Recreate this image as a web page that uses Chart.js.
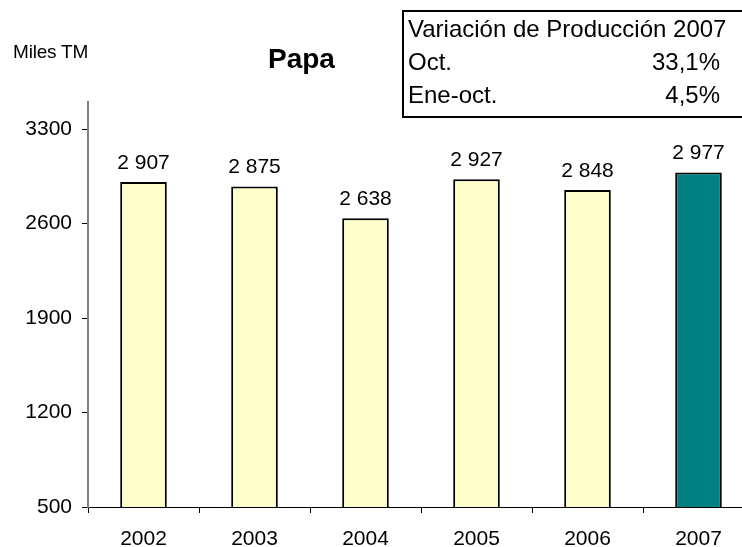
<!DOCTYPE html>
<html>
<head>
<meta charset="utf-8">
<script src="https://cdn.jsdelivr.net/npm/chart.js@4.4.0/dist/chart.umd.min.js"></script>
<style>
    html, body { margin: 0; padding: 0; background: #fff; overflow: hidden; }
    body { width: 742px; height: 547px; position: relative; font-family: 'Liberation Sans', Arial, sans-serif; }
    #wrap { position: absolute; left: 0; top: 0; width: 770px; height: 547px; }
    .unit { position: absolute; left: 13px; top: 41px; font-size: 19px; letter-spacing: -0.2px; }
    .title { position: absolute; left: 268px; top: 43px; font-size: 28px; font-weight: bold; }
    .box { position: absolute; left: 402px; top: 10px; width: 360px; height: 104px; border: 2px solid #000; font-size: 24px; }
    .row { position: relative; height: 33px; line-height: 33px; padding-left: 4px; }
    .row .val { position: absolute; left: 0; top: 0; width: 316px; text-align: right; }
</style>
</head>
<body>
<div id="wrap"><canvas id="chart" width="770" height="547"></canvas></div>
<div class="unit">Miles TM</div>
<div class="title">Papa</div>
<div class="box" id="box"></div>
<script>
document.addEventListener('DOMContentLoaded', () => {
    const years = ['2002', '2003', '2004', '2005', '2006', '2007'];
    const production = [2907, 2875, 2638, 2927, 2848, 2977];
    const yTicks = [500, 1200, 1900, 2600, 3300];
    const boxTitle = 'Variación de Producción 2007';
    const boxLabels = ['Oct.', 'Ene-oct.'];
    const boxValues = ['33,1%', '4,5%'];

    // Table in the corner
    const box = document.getElementById('box');
    const head = document.createElement('div');
    head.className = 'row';
    head.textContent = boxTitle;
    box.appendChild(head);
    boxLabels.forEach((label, i) => {
        const row = document.createElement('div');
        row.className = 'row';
        row.textContent = label;
        const val = document.createElement('span');
        val.className = 'val';
        val.textContent = boxValues[i];
        row.appendChild(val);
        box.appendChild(row);
    });

    const formatValue = v => String(v).replace(/\B(?=(\d{3})+(?!\d))/g, ' ');

    const valueLabels = {
        id: 'valueLabels',
        afterDatasetsDraw(chart) {
            const ctx = chart.ctx;
            const meta = chart.getDatasetMeta(0);
            ctx.save();
            ctx.font = '21px "Liberation Sans", Arial, sans-serif';
            ctx.fillStyle = '#000';
            ctx.textAlign = 'center';
            ctx.textBaseline = 'middle';
            meta.data.forEach((bar, i) => {
                ctx.fillText(formatValue(production[i]), bar.x, bar.y - 19);
            });
            ctx.restore();
        }
    };

    new Chart(document.getElementById('chart').getContext('2d'), {
        type: 'bar',
        data: {
            labels: years,
            datasets: [{
                data: production,
                backgroundColor: years.map((y, i) => i === years.length - 1 ? '#008080' : '#FFFFCC'),
                borderColor: '#000',
                borderWidth: 2,
                categoryPercentage: 1,
                barPercentage: 0.42
            }]
        },
        options: {
            responsive: false,
            animation: false,
            layout: { padding: { top: 102, right: 16, left: 0, bottom: 0 } },
            plugins: {
                legend: { display: false },
                tooltip: { enabled: false }
            },
            scales: {
                x: {
                    grid: { drawOnChartArea: false, drawTicks: true, tickLength: 6, color: '#000' },
                    border: { color: '#000', width: 1 },
                    ticks: { color: '#000', padding: 14, font: { size: 21, family: '"Liberation Sans", Arial, sans-serif' } },
                    afterFit(scale) { scale.height = 40; }
                },
                y: {
                    min: 500,
                    max: 3500,
                    grid: { drawOnChartArea: false, drawTicks: true, tickLength: 6, color: '#000' },
                    border: { color: '#808080', width: 2 },
                    ticks: {
                        color: '#000',
                        padding: 10,
                        font: { size: 21, family: '"Liberation Sans", Arial, sans-serif' },
                        callback: v => String(v)
                    },
                    afterBuildTicks(scale) { scale.ticks = yTicks.map(v => ({ value: v })); },
                    afterFit(scale) { scale.width = 88; }
                }
            }
        },
        plugins: [valueLabels]
    });
});
</script>
</body>
</html>
